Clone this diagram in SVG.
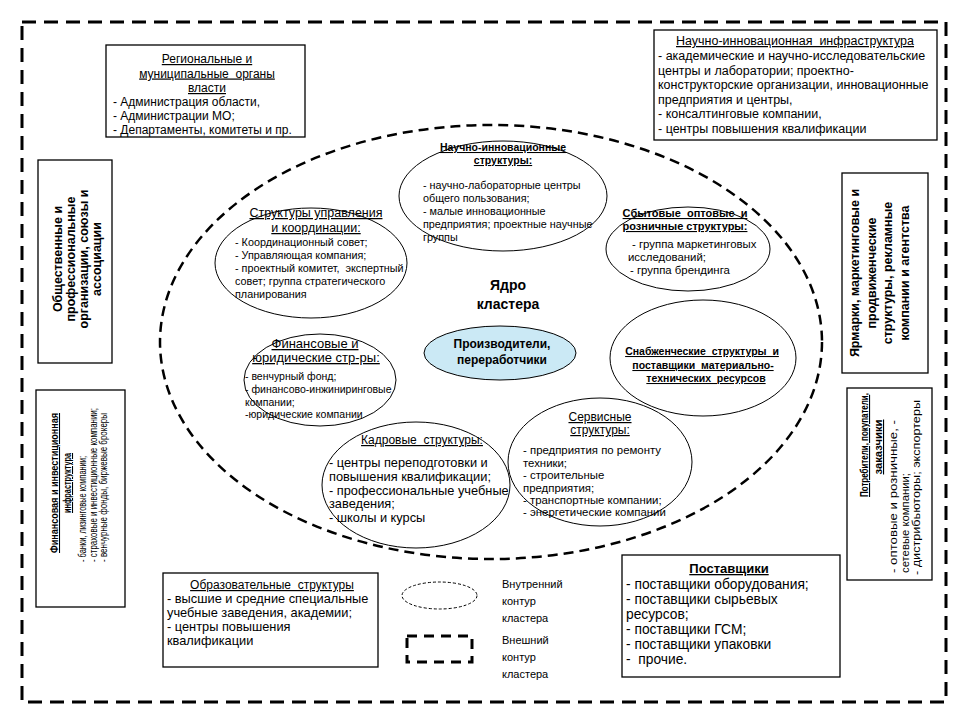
<svg xmlns="http://www.w3.org/2000/svg" width="960" height="720" viewBox="0 0 960 720">
<style>
text { font-family: "Liberation Sans", Arial, sans-serif; fill: #000; }
.b { font-weight: bold; }
.u { text-decoration: underline; }
.m { text-anchor: middle; }
.box { fill: #fff; stroke: #000; stroke-width: 1.3; }
.ell { fill: none; stroke: #000; stroke-width: 1; }
.outer { fill: none; stroke: #000; stroke-width: 3; stroke-dasharray: 14 8; }
.inner { fill: none; stroke: #000; stroke-width: 2.5; stroke-dasharray: 10 6; }
.f12 { font-size: 12px; }
.f125 { font-size: 12.5px; }
.f128 { font-size: 12.8px; }
.f13 { font-size: 13px; }
.f138 { font-size: 13.8px; }
.f105 { font-size: 10.5px; }
.f108 { font-size: 10.8px; }
.f10 { font-size: 10px; }
.f11 { font-size: 11px; }
.f114 { font-size: 11.4px; }
</style>
<rect x="0" y="0" width="960" height="720" fill="#fff"/>

<g id="contours">
  <rect class="outer" x="22" y="22" width="924" height="680"/>
  <ellipse class="inner" cx="491" cy="342" rx="331" ry="217"/>
</g>

<g id="connectors"/>

<g id="region">
  <rect class="box" x="106" y="45" width="199" height="92"/>
  <text class="f12 m u" x="207" y="63">Региональные и</text>
  <text class="f12 m u" x="207" y="77.5" xml:space="preserve">муниципальные  органы</text>
  <text class="f12 m u" x="207" y="92">власти</text>
  <text class="f12" x="113" y="105.5">- Администрация области,</text>
  <text class="f12" x="113" y="119.5">- Администрации МО;</text>
  <text class="f12" x="113" y="133.5">- Департаменты, комитеты и пр.</text>
</g>

<g id="sci-infra">
  <rect class="box" x="654" y="30" width="283" height="110"/>
  <text class="f125 m u" x="795" y="45" xml:space="preserve">Научно-инновационная  инфраструктура</text>
  <text class="f125" x="658" y="60">- академические и научно-исследовательские</text>
  <text class="f125" x="658" y="74.5">центры и лаборатории; проектно-</text>
  <text class="f125" x="658" y="89">конструкторские организации, инновационные</text>
  <text class="f125" x="658" y="103.5">предприятия и центры,</text>
  <text class="f125" x="658" y="118">- консалтинговые компании,</text>
  <text class="f125" x="658" y="132.5">- центры повышения квалификации</text>
</g>

<g id="public-orgs">
  <rect class="box" x="38" y="160" width="74" height="203"/>
  <g transform="rotate(-90)">
    <text class="f125 b m" x="-259" y="61.5">Общественные и</text>
    <text class="f125 b m" x="-259" y="75">профессиональные</text>
    <text class="f125 b m" x="-259" y="88">организации, союзы и</text>
    <text class="f125 b m" x="-259" y="101">ассоциации</text>
  </g>
</g>

<g id="fairs">
  <rect class="box" x="842" y="173" width="86" height="200"/>
  <g transform="rotate(-90)">
    <text class="f125 b m" x="-273" y="859">Ярмарки, маркетинговые и</text>
    <text class="f125 b m" x="-273" y="875.5">продвиженческие</text>
    <text class="f125 b m" x="-273" y="892">структуры, рекламные</text>
    <text class="f125 b m" x="-273" y="908.5">компании и агентства</text>
  </g>
</g>

<g id="fin-infra">
  <rect class="box" x="36" y="390" width="89" height="217"/>
  <g transform="rotate(-90)">
    <text class="f105 b u m" x="-483" y="58" textLength="140" lengthAdjust="spacingAndGlyphs">Финансовая и инвестиционная</text>
    <text class="f105 b u m" x="-483" y="71" textLength="60" lengthAdjust="spacingAndGlyphs">инфраструктура</text>
    <text class="f105" x="-562" y="86" textLength="106" lengthAdjust="spacingAndGlyphs">- банки, лизинговые компании;</text>
    <text class="f105" x="-562" y="96.5" textLength="154" lengthAdjust="spacingAndGlyphs">- страховые и инвестиционные компании;</text>
    <text class="f105" x="-562" y="107" textLength="149" lengthAdjust="spacingAndGlyphs">- венчурные фонды, биржевые брокеры</text>
  </g>
</g>

<g id="consumers">
  <rect class="box" x="847" y="388" width="85" height="192"/>
  <g transform="rotate(-90)">
    <text class="f11 b u m" x="-445" y="868" textLength="104" lengthAdjust="spacingAndGlyphs">Потребители, покупатели,</text>
    <text class="f11 b u m" x="-447" y="882" textLength="55" lengthAdjust="spacingAndGlyphs">заказчики</text>
    <text class="f11" x="-573" y="897" textLength="153" lengthAdjust="spacingAndGlyphs">- оптовые и розничные, -</text>
    <text class="f11" x="-573" y="908.5" textLength="100" lengthAdjust="spacingAndGlyphs">сетевые компании;</text>
    <text class="f11" x="-575" y="920" textLength="175" lengthAdjust="spacingAndGlyphs">- дистрибьюторы; экспортеры</text>
  </g>
</g>

<g id="sci-structures">
  <ellipse class="ell" cx="503" cy="196" rx="104" ry="55"/>
  <text class="f105 b u m" x="503" y="151">Научно-инновационные</text>
  <text class="f105 b u m" x="503" y="164">структуры:</text>
  <text class="f108" x="423" y="189">- научно-лабораторные центры</text>
  <text class="f108" x="423" y="202">общего пользования;</text>
  <text class="f108" x="423" y="215">- малые инновационные</text>
  <text class="f108" x="423" y="228">предприятия; проектные научные</text>
  <text class="f108" x="423" y="241">группы</text>
</g>

<g id="mgmt">
  <ellipse class="ell" cx="311" cy="263" rx="96" ry="55"/>
  <text class="f125 u m" x="316" y="217">Структуры управления</text>
  <text class="f125 u m" x="316" y="232">и координации:</text>
  <text class="f108" x="235" y="246">- Координационный совет;</text>
  <text class="f108" x="235" y="259">- Управляющая компания;</text>
  <text class="f108" x="235" y="272" xml:space="preserve">- проектный комитет,  экспертный</text>
  <text class="f108" x="235" y="285">совет; группа стратегического</text>
  <text class="f108" x="235" y="298">планирования</text>
</g>

<g id="fin-legal">
  <ellipse class="ell" cx="320" cy="380" rx="76" ry="46"/>
  <text class="f13 u m" x="315" y="348">Финансовые и</text>
  <text class="f13 u m" x="316" y="362">юридические стр-ры:</text>
  <text class="f105" x="245" y="380">- венчурный фонд;</text>
  <text class="f105" x="245" y="393">- финансово-инжиниринговые</text>
  <text class="f105" x="245" y="405.5">компании;</text>
  <text class="f105" x="245" y="418">-юридические компании</text>
</g>

<g id="sales">
  <ellipse class="ell" cx="688" cy="249" rx="82" ry="42"/>
  <text class="f11 b u m" x="685" y="217" xml:space="preserve">Сбытовые  оптовые  и</text>
  <text class="f11 b u m" x="685" y="230">розничные структуры:</text>
  <text class="f114" x="632" y="248">- группа маркетинговых</text>
  <text class="f114" x="628" y="261">исследований;</text>
  <text class="f114" x="630" y="274">- группа брендинга</text>
</g>

<g id="supply">
  <ellipse class="ell" cx="703" cy="358" rx="93" ry="58"/>
  <text class="f105 b u m" x="702" y="355" xml:space="preserve">Снабженческие  структуры  и</text>
  <text class="f105 b u m" x="703" y="369" xml:space="preserve">поставщики  материально-</text>
  <text class="f105 b u m" x="706" y="382" xml:space="preserve">технических  ресурсов</text>
</g>

<g id="hr">
  <ellipse class="ell" cx="416" cy="485" rx="94" ry="63"/>
  <text class="f12 u m" x="422" y="444" xml:space="preserve">Кадровые  структуры:</text>
  <text class="f128" x="329" y="467">- центры переподготовки и</text>
  <text class="f128" x="329" y="481">повышения квалификации;</text>
  <text class="f128" x="329" y="494.5">- профессиональные учебные</text>
  <text class="f128" x="329" y="508">заведения;</text>
  <text class="f128" x="329" y="521.5">- школы и курсы</text>
</g>

<g id="service">
  <ellipse class="ell" cx="600" cy="462" rx="92" ry="64"/>
  <text class="f12 u m" x="600" y="421">Сервисные</text>
  <text class="f12 u m" x="600" y="434">структуры:</text>
  <text class="f114" x="523" y="454">- предприятия по ремонту</text>
  <text class="f114" x="523" y="466.5">техники;</text>
  <text class="f114" x="523" y="479">- строительные</text>
  <text class="f114" x="523" y="491.5">предприятия;</text>
  <text class="f114" x="523" y="504">- транспортные компании;</text>
  <text class="f114" x="523" y="516">- энергетические компании</text>
</g>

<g id="producers">
  <ellipse cx="500" cy="353" rx="76" ry="27" fill="#cbe9f5" stroke="#000" stroke-width="1"/>
  <text class="f12 b m" x="502" y="348">Производители,</text>
  <text class="f12 b m" x="502" y="364">переработчики</text>
</g>

<g id="core-label">
  <text class="b m" style="font-size:14px" x="508" y="290">Ядро</text>
  <text class="b m" style="font-size:14px" x="508" y="309">кластера</text>
</g>

<g id="education">
  <rect class="box" x="163" y="573" width="215" height="94"/>
  <text class="f12 u m" x="272" y="589" xml:space="preserve">Образовательные  структуры</text>
  <text class="f128" x="167" y="603">- высшие и средние специальные</text>
  <text class="f128" x="167" y="617">учебные заведения, академии;</text>
  <text class="f128" x="167" y="631">- центры повышения</text>
  <text class="f128" x="167" y="645">квалификации</text>
</g>

<g id="suppliers">
  <rect class="box" x="622" y="555" width="218" height="122"/>
  <text class="f13 b u m" x="729" y="573">Поставщики</text>
  <text class="f138" x="626" y="589">- поставщики оборудования;</text>
  <text class="f138" x="626" y="604">- поставщики сырьевых</text>
  <text class="f138" x="626" y="619">ресурсов;</text>
  <text class="f138" x="626" y="634">- поставщики ГСМ;</text>
  <text class="f138" x="626" y="649">- поставщики упаковки</text>
  <text class="f138" x="626" y="664" xml:space="preserve">-  прочие.</text>
</g>

<g id="legend">
  <ellipse cx="439.5" cy="595.5" rx="37.5" ry="13.5" fill="none" stroke="#000" stroke-width="1" stroke-dasharray="3 2"/>
  <rect x="407" y="636" width="65" height="26" fill="none" stroke="#000" stroke-width="3" stroke-dasharray="10 7"/>
  <text class="f11" x="502" y="588">Внутренний</text>
  <text class="f11" x="502" y="605">контур</text>
  <text class="f11" x="502" y="622">кластера</text>
  <text class="f11" x="502" y="644">Внешний</text>
  <text class="f11" x="502" y="661">контур</text>
  <text class="f11" x="502" y="678">кластера</text>
</g>
</svg>
